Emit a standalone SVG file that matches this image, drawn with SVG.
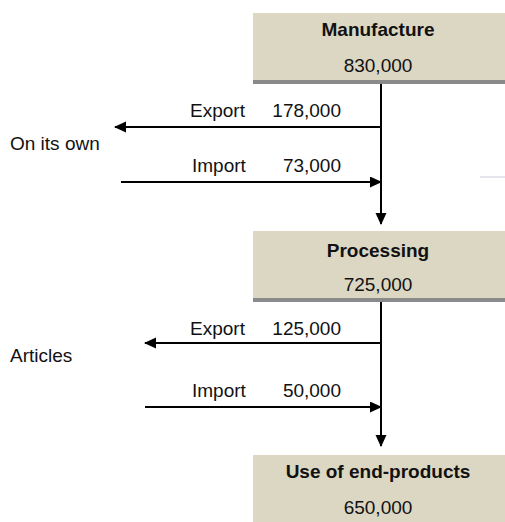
<svg xmlns="http://www.w3.org/2000/svg" width="505" height="522" viewBox="0 0 505 522">
<style>
.box{fill:#dcd7c3}
.bar{fill:#8a8a8a}
.t{font-family:"Liberation Sans",Arial,sans-serif;fill:#111}
.title{font-size:19px;font-weight:bold;text-anchor:middle}
.val{font-size:19px;text-anchor:middle}
.lbl{font-size:19px}
.num{font-size:19px;text-anchor:end}
.ln{stroke:#000;stroke-width:2;fill:none}
</style>
<defs>
<marker id="ah" markerWidth="12" markerHeight="12" refX="11" refY="5.5" orient="auto" markerUnits="userSpaceOnUse">
<path d="M0,0 L12,5.5 L0,11 Z" fill="#000"/>
</marker>
</defs>
<rect width="505" height="522" fill="#fff"/>
<g id="manufacture">
<rect class="box" x="253" y="13" width="252" height="67"/>
<rect class="bar" x="253" y="80" width="252" height="4"/>
<text class="t title" x="378" y="36">Manufacture</text>
<text class="t val" x="378" y="72">830,000</text>
</g>
<g id="processing">
<rect class="box" x="253" y="231" width="252" height="67"/>
<rect class="bar" x="253" y="298" width="252" height="4"/>
<text class="t title" x="378" y="257">Processing</text>
<text class="t val" x="378" y="291">725,000</text>
</g>
<g id="use">
<rect class="box" x="253" y="455" width="252" height="67"/>
<text class="t title" x="378" y="478">Use of end-products</text>
<text class="t val" x="378" y="514">650,000</text>
</g>
<g id="on-its-own"><text class="t lbl" x="10" y="150">On its own</text></g>
<g id="articles"><text class="t lbl" x="10" y="362">Articles</text></g>
<g id="connectors">
<line class="ln" x1="381" y1="84" x2="381" y2="224" marker-end="url(#ah)"/>
<line class="ln" x1="381" y1="127" x2="115" y2="127" marker-end="url(#ah)"/>
<line class="ln" x1="121" y1="182" x2="381" y2="182" marker-end="url(#ah)"/>
<line class="ln" x1="381" y1="302" x2="381" y2="446" marker-end="url(#ah)"/>
<line class="ln" x1="381" y1="343" x2="145" y2="343" marker-end="url(#ah)"/>
<line class="ln" x1="145" y1="407" x2="381" y2="407" marker-end="url(#ah)"/>
<line x1="480" y1="177" x2="505" y2="177" stroke="#c9ccd8" stroke-width="1"/>
<text class="t lbl" x="190" y="117">Export</text>
<text class="t num" x="341" y="117">178,000</text>
<text class="t lbl" x="192" y="172">Import</text>
<text class="t num" x="341" y="172">73,000</text>
<text class="t lbl" x="190" y="335">Export</text>
<text class="t num" x="341" y="335">125,000</text>
<text class="t lbl" x="192" y="397">Import</text>
<text class="t num" x="341" y="397">50,000</text>
</g>
</svg>
